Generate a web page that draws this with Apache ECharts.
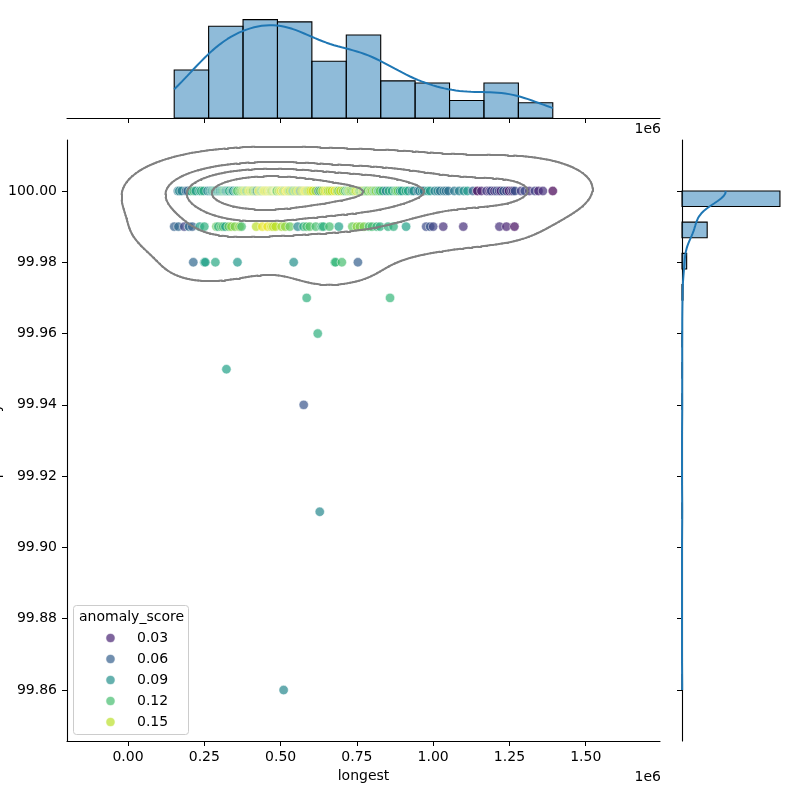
<!DOCTYPE html>
<html>
<head>
<meta charset="utf-8">
<script src="https://cdn.jsdelivr.net/npm/echarts@6/dist/echarts.min.js"></script>
<style>
  html, body { margin: 0; padding: 0; background: #fff; }
  #chart { width: 800px; height: 800px; }
</style>
</head>
<body>
<div id="chart"></div>
<script>
// longest values are listed in thousands, one pair of arrays per identity row
const LONG_UNIT = 1000;

// identity 100.00
const long100 = [
  163.2, 168, 176, 190, 195.7, 205, 215.1, 222, 234.5, 240, 247.7, 260.5,
  268, 273, 276, 280.3, 283, 286.2, 290, 292.8, 296, 299.7, 302, 305.9, 309, 312.5, 316, 319.1, 322, 325.7,
  329, 332.2, 338.8, 342, 345.1, 352, 356, 358.6, 366, 371.1, 375,
  379, 381.6, 385, 388.2, 391, 394.4, 398, 401, 404.6, 407, 410.2, 414.5, 417.8, 420, 423, 427.6, 430, 434.2,
  437.5, 440, 442.8, 445, 447.4, 450.7, 454, 457.2, 460.5, 463.8, 466, 468.8, 471, 473.7, 477, 479, 481.6,
  483.6, 485, 486.8, 488,
  493.4, 496, 500, 503, 507.6, 510, 513.2, 516.5, 520.7, 523, 526.3, 529.6, 532, 536.2, 540.1, 543, 546.1,
  549, 552.6, 556, 559.2, 563, 566.1, 569, 572.4, 576, 579, 582, 585.5, 589, 592, 595.4, 599,
  605.3, 615, 624.7, 630, 637.5, 645, 650.7, 656, 661.2, 668, 676.7, 685, 690, 696.1, 705, 712,
  718, 720.4, 724, 727, 731, 735.2, 740.1, 744, 748, 753.3, 757, 759.9, 764, 767.8, 770, 773, 777, 780.6,
  783, 786.2, 792.8, 796, 800.3, 805.9, 809, 812.5, 819.1, 822, 826.3,
  835, 845.7, 855, 865.1, 875, 880, 884.9, 892, 898, 910.5, 918, 930.3, 936,
  949.7, 955, 963.8, 970, 982.2, 990, 1005, 1015, 1023, 1034.2, 1042, 1050,
  1069.1, 1085, 1100, 1112.2, 1130, 1144.7, 1157.9,
  1175, 1185, 1190.2, 1200.7, 1208, 1216.1, 1222, 1230.3, 1240, 1248.7, 1256.6, 1262, 1268.1,
  1287.9, 1300, 1315, 1333.2, 1345, 1359.6, 1392
];
const score100 = [
  0.075, 0.085, 0.08, 0.07, 0.06, 0.11, 0.12, 0.095, 0.10, 0.11, 0.105, 0.08,
  0.09, 0.095, 0.10, 0.085, 0.115, 0.11, 0.095, 0.08, 0.11, 0.10, 0.085, 0.105, 0.10, 0.12, 0.12, 0.11, 0.095, 0.09,
  0.11, 0.105, 0.115, 0.10, 0.09, 0.10, 0.12, 0.125, 0.13, 0.135, 0.14,
  0.14, 0.15, 0.155, 0.12, 0.13, 0.155, 0.16, 0.15, 0.14, 0.16, 0.13, 0.15, 0.11, 0.14, 0.085, 0.16, 0.155, 0.145,
  0.13, 0.12, 0.155, 0.15, 0.16, 0.15, 0.16, 0.14, 0.165, 0.155, 0.145, 0.16, 0.135, 0.15, 0.13, 0.155, 0.145,
  0.16, 0.15, 0.14, 0.125,
  0.15, 0.14, 0.16, 0.155, 0.16, 0.13, 0.14, 0.165, 0.155, 0.16, 0.15, 0.13, 0.145, 0.16, 0.11, 0.12, 0.145,
  0.15, 0.12, 0.16, 0.155, 0.135, 0.07, 0.15, 0.15, 0.14, 0.165, 0.155, 0.16, 0.13, 0.15, 0.14, 0.16,
  0.155, 0.14, 0.08, 0.13, 0.15, 0.155, 0.16, 0.14, 0.15, 0.15, 0.16, 0.145, 0.13, 0.155, 0.14, 0.12,
  0.12, 0.13, 0.14, 0.145, 0.13, 0.14, 0.12, 0.15, 0.15, 0.155, 0.14, 0.135, 0.125, 0.16, 0.135, 0.15, 0.12, 0.115,
  0.14, 0.125, 0.145, 0.13, 0.14, 0.13, 0.12, 0.14, 0.12, 0.115, 0.13,
  0.10, 0.08, 0.11, 0.105, 0.12, 0.125, 0.13, 0.095, 0.10, 0.11, 0.10, 0.085, 0.09,
  0.07, 0.08, 0.09, 0.075, 0.105, 0.095, 0.08, 0.085, 0.07, 0.075, 0.07, 0.07,
  0.075, 0.08, 0.09, 0.095, 0.06, 0.015, 0.03,
  0.04, 0.03, 0.05, 0.035, 0.05, 0.045, 0.03, 0.06, 0.045, 0.02, 0.04, 0.035, 0.055,
  0.04, 0.05, 0.035, 0.045, 0.03, 0.035, 0.015
];

// identity 99.99
const long9999 = [
  151.3, 165, 184.2, 200, 210.5, 235, 250,
  289.5, 296, 305.9, 312, 319.1, 330, 338.8, 350, 365.1, 372,
  420, 440, 457.2, 470, 476, 483.6,
  503.3, 515, 530, 555.9, 575, 585, 595.4,
  615.1, 634.9, 640, 660, 690.8,
  735, 750, 760, 773, 790, 799.3, 815, 825.7,
  852, 870, 911.2,
  977, 990.1, 1000, 1032.9,
  1098.7,
  1217.1, 1240, 1266.5
];
const score9999 = [
  0.06, 0.065, 0.045, 0.07, 0.06, 0.10, 0.11,
  0.13, 0.11, 0.125, 0.12, 0.10, 0.13, 0.14, 0.135, 0.14, 0.12,
  0.15, 0.16, 0.16, 0.155, 0.15, 0.15,
  0.145, 0.14, 0.13, 0.085, 0.11, 0.12, 0.125,
  0.12, 0.115, 0.11, 0.12, 0.10,
  0.13, 0.14, 0.135, 0.135, 0.12, 0.12, 0.115, 0.11,
  0.11, 0.11, 0.10,
  0.05, 0.055, 0.045, 0.035,
  0.035,
  0.035, 0.03, 0.02
];

// identity 99.98
const long9998 = [213.8, 250, 253.3, 286.2, 358.6, 542.8, 677.6, 680, 700.7, 753.3];
const score9998 = [0.065, 0.10, 0.10, 0.105, 0.095, 0.09, 0.115, 0.115, 0.12, 0.06];

// the few rows below 99.98
const longLow = [585.5, 858.6, 621.7, 322.4, 575.7, 628.3, 509.9];
const identLow = [99.97, 99.97, 99.96, 99.95, 99.94, 99.91, 99.86];
const scoreLow = [0.11, 0.115, 0.11, 0.10, 0.055, 0.085, 0.085];

const xTicks = [0, 250000, 500000, 750000, 1000000, 1250000, 1500000, 1750000];
const yTicks = [99.86, 99.88, 99.90, 99.92, 99.94, 99.96, 99.98, 100.00];
const legendValues = [0.03, 0.06, 0.09, 0.12, 0.15];

const X_BINS = 11;
const Y_BINS = 32;
const KDE_PROPS = [0.05, 0.2875, 0.525, 0.7625];   // levels=5, thresh=0.05
const TOP_COUNT_MAX = 54;
const RIGHT_COUNT_MAX = 253;

const VIRIDIS = ['#440154', '#482878', '#3e4a89', '#31688e', '#26828e',
                 '#1f9e89', '#35b779', '#6dcd59', '#b4de2c', '#fde725'];
const HIST_FILL = 'rgba(31,119,180,0.5)';
const KDE_BLUE = '#1f77b4';
const FONT = 'DejaVu Sans';

// ---- assemble points ----
const points = [];
long100.forEach((v, i) => points.push([v * LONG_UNIT, 100.00, score100[i]]));
long9999.forEach((v, i) => points.push([v * LONG_UNIT, 99.99, score9999[i]]));
long9998.forEach((v, i) => points.push([v * LONG_UNIT, 99.98, score9998[i]]));
longLow.forEach((v, i) => points.push([v * LONG_UNIT, identLow[i], scoreLow[i]]));

const xs = points.map(p => p[0]);
const ys = points.map(p => p[1]);
const ss = points.map(p => p[2]);
const N = points.length;
const sMin = Math.min(...ss), sMax = Math.max(...ss);

function hexRgb(h) {
  return [parseInt(h.slice(1, 3), 16), parseInt(h.slice(3, 5), 16), parseInt(h.slice(5, 7), 16)];
}
function viridis(t) {
  t = Math.max(0, Math.min(1, t));
  const pos = t * (VIRIDIS.length - 1);
  const i = Math.min(Math.floor(pos), VIRIDIS.length - 2);
  const f = pos - i;
  const a = hexRgb(VIRIDIS[i]), b = hexRgb(VIRIDIS[i + 1]);
  const c = a.map((v, k) => Math.round(v + (b[k] - v) * f));
  return 'rgb(' + c[0] + ',' + c[1] + ',' + c[2] + ')';
}
const scoreColor = s => viridis((s - sMin) / (sMax - sMin));

function mean(a) { return a.reduce((s, v) => s + v, 0) / a.length; }
function std(a) {
  const m = mean(a);
  return Math.sqrt(a.reduce((s, v) => s + (v - m) * (v - m), 0) / (a.length - 1));
}
function linspace(a, b, n) {
  const out = [];
  for (let i = 0; i < n; i++) out.push(a + (b - a) * i / (n - 1));
  return out;
}

// ---- bivariate kde (scott) on a 200x200 grid, cut = 3 ----
const mx = mean(xs), my = mean(ys);
let sxx = 0, syy = 0, sxy = 0;
for (let i = 0; i < N; i++) {
  const dx = xs[i] - mx, dy = ys[i] - my;
  sxx += dx * dx; syy += dy * dy; sxy += dx * dy;
}
const fac2 = Math.pow(N, -2 / 6);
const cxx = sxx / (N - 1) * fac2, cyy = syy / (N - 1) * fac2, cxy = sxy / (N - 1) * fac2;
const det = cxx * cyy - cxy * cxy;
const ixx = cyy / det, iyy = cxx / det, ixy = -cxy / det;
const bwx = Math.sqrt(cxx), bwy = Math.sqrt(cyy);
const xLo = Math.min(...xs) - 3 * bwx, xHi = Math.max(...xs) + 3 * bwx;
const yLo = Math.min(...ys) - 3 * bwy, yHi = Math.max(...ys) + 3 * bwy;

const G = 200;
const gx = linspace(xLo, xHi, G), gy = linspace(yLo, yHi, G);
const Z = [];
const flat = [];
for (let j = 0; j < G; j++) {
  const row = new Float64Array(G);
  for (let i = 0; i < G; i++) {
    let s = 0;
    for (let k = 0; k < N; k++) {
      const dx = gx[i] - xs[k], dy = gy[j] - ys[k];
      s += Math.exp(-0.5 * (ixx * dx * dx + 2 * ixy * dx * dy + iyy * dy * dy));
    }
    row[i] = s;
    flat.push(s);
  }
  Z.push(row);
}
const sorted = flat.slice().sort((a, b) => b - a);
const total = sorted.reduce((s, v) => s + v, 0);
const cum = [];
let acc = 0;
for (const v of sorted) { acc += v; cum.push(acc / total); }
const levels = KDE_PROPS.map(q => {
  let idx = cum.findIndex(c => c >= 1 - q);
  if (idx < 0) idx = cum.length - 1;
  return sorted[idx];
});

function contourSegments(level) {
  const segs = [];
  for (let j = 0; j < G - 1; j++) {
    for (let i = 0; i < G - 1; i++) {
      const v = [Z[j][i], Z[j][i + 1], Z[j + 1][i + 1], Z[j + 1][i]];
      const px = [gx[i], gx[i + 1], gx[i + 1], gx[i]];
      const py = [gy[j], gy[j], gy[j + 1], gy[j + 1]];
      const pts = [];
      for (let e = 0; e < 4; e++) {
        const a = e, b = (e + 1) % 4;
        if ((v[a] >= level) !== (v[b] >= level)) {
          const t = (level - v[a]) / (v[b] - v[a]);
          pts.push([px[a] + t * (px[b] - px[a]), py[a] + t * (py[b] - py[a])]);
        }
      }
      if (pts.length === 2) {
        segs.push({ coords: pts });
      } else if (pts.length === 4) {
        const c = (v[0] + v[1] + v[2] + v[3]) / 4;
        if ((c >= level) === (v[0] >= level)) {
          segs.push({ coords: [pts[0], pts[1]] }, { coords: [pts[2], pts[3]] });
        } else {
          segs.push({ coords: [pts[3], pts[0]] }, { coords: [pts[1], pts[2]] });
        }
      }
    }
  }
  return segs;
}
let contourData = [];
levels.forEach(l => { contourData = contourData.concat(contourSegments(l)); });

// ---- marginal histograms + kde lines ----
function histogram(vals, nb) {
  const lo = Math.min(...vals), hi = Math.max(...vals);
  const w = (hi - lo) / nb;
  const counts = new Array(nb).fill(0);
  vals.forEach(v => { counts[Math.min(nb - 1, Math.floor((v - lo) / w))]++; });
  return { bars: counts.map((c, i) => [lo + i * w, lo + (i + 1) * w, c]).filter(b => b[2] > 0), w, lo, hi };
}
function kde1d(vals, lo, hi, scale) {
  const n = vals.length;
  const bw = std(vals) * Math.pow(n, -0.2);
  const norm = scale / (n * bw * Math.sqrt(2 * Math.PI));
  return linspace(lo, hi, 200).map(g => {
    let s = 0;
    for (const v of vals) { const z = (g - v) / bw; s += Math.exp(-0.5 * z * z); }
    return [g, s * norm];
  });
}
const hx = histogram(xs, X_BINS);
const hy = histogram(ys, Y_BINS);
const kdeX = kde1d(xs, hx.lo, hx.hi, N * hx.w);
const kdeY = kde1d(ys, hy.lo, hy.hi, N * hy.w).map(p => [p[1], p[0]]);

// ---- chart ----
const chart = echarts.init(document.getElementById('chart'), null, { renderer: 'canvas' });

const axisBlack = { onZero: false, lineStyle: { color: '#000', width: 1.1 } };
const labelStyle = { color: '#000', fontSize: 14, fontFamily: FONT };
const txt = (text, align, extra) => Object.assign({
  text: text, fill: '#000', font: '14px "DejaVu Sans"',
  textAlign: align, textVerticalAlign: 'middle', align: align, verticalAlign: 'middle'
}, extra || {});

const legendItems = [
  { type: 'rect', z: 10, shape: { x: 73.5, y: 605.5, width: 115, height: 129, r: 3 },
    style: { fill: 'rgba(255,255,255,0.8)', stroke: '#cccccc', lineWidth: 1 } },
  { type: 'text', z: 11, x: 131.5, y: 617, style: txt('anomaly_score', 'center') }
];
legendValues.forEach((v, i) => {
  const y = 638 + i * 21;
  legendItems.push({
    type: 'circle', z: 11, shape: { cx: 110.5, cy: y, r: 4.6 },
    style: { fill: scoreColor(v), stroke: '#fff', lineWidth: 0.75, opacity: 0.7 }
  });
  legendItems.push({ type: 'text', z: 11, x: 137, y: y, style: txt(v.toFixed(2), 'left') });
});

chart.setOption({
  animation: false,
  backgroundColor: '#fff',
  grid: [
    { left: 67, top: 140, width: 593, height: 601 },
    { left: 67, top: 0, width: 593, height: 118 },
    { left: 682, top: 140, width: 118, height: 601 }
  ],
  xAxis: [
    {
      gridIndex: 0, type: 'value', min: xLo, max: xHi,
      axisLine: axisBlack,
      axisTick: { length: 5, lineStyle: { color: '#000' }, customValues: xTicks },
      axisLabel: Object.assign({ margin: 9, customValues: xTicks,
        formatter: v => (v / 1e6).toFixed(2) }, labelStyle),
      splitLine: { show: false },
      name: 'longest', nameLocation: 'middle', nameGap: 28,
      nameTextStyle: labelStyle
    },
    {
      gridIndex: 1, type: 'value', min: xLo, max: xHi,
      axisLine: axisBlack,
      axisTick: { length: 5, lineStyle: { color: '#000' }, customValues: xTicks },
      axisLabel: { show: false },
      splitLine: { show: false }
    },
    {
      gridIndex: 2, type: 'value', min: 0, max: RIGHT_COUNT_MAX, show: false
    }
  ],
  yAxis: [
    {
      gridIndex: 0, type: 'value', min: yLo, max: yHi,
      axisLine: axisBlack,
      axisTick: { length: 5, lineStyle: { color: '#000' }, customValues: yTicks },
      axisLabel: Object.assign({ margin: 10, customValues: yTicks,
        formatter: v => v.toFixed(2) }, labelStyle),
      splitLine: { show: false }
    },
    {
      gridIndex: 1, type: 'value', min: 0, max: TOP_COUNT_MAX, show: false
    },
    {
      gridIndex: 2, type: 'value', min: yLo, max: yHi,
      axisLine: axisBlack,
      axisTick: { length: 5, lineStyle: { color: '#000' }, customValues: yTicks },
      axisLabel: { show: false },
      splitLine: { show: false }
    }
  ],
  series: [
    {
      type: 'scatter', xAxisIndex: 0, yAxisIndex: 0,
      data: points, symbolSize: 9.4, z: 2,
      itemStyle: {
        color: p => scoreColor(p.value[2]),
        opacity: 0.7, borderColor: '#fff', borderWidth: 0.75
      },
      silent: true
    },
    {
      type: 'lines', coordinateSystem: 'cartesian2d', xAxisIndex: 0, yAxisIndex: 0,
      data: contourData, z: 3, silent: true,
      lineStyle: { color: '#808080', width: 2, opacity: 1, cap: 'round' }
    },
    {
      type: 'custom', xAxisIndex: 1, yAxisIndex: 1, data: hx.bars, silent: true,
      renderItem: (params, api) => {
        const p0 = api.coord([api.value(0), api.value(2)]);
        const p1 = api.coord([api.value(1), 0]);
        return { type: 'rect',
          shape: { x: p0[0], y: p0[1], width: p1[0] - p0[0], height: p1[1] - p0[1] },
          style: { fill: HIST_FILL, stroke: '#000', lineWidth: 1.1 } };
      }
    },
    {
      type: 'line', xAxisIndex: 1, yAxisIndex: 1, data: kdeX, showSymbol: false,
      symbol: 'none', silent: true, z: 3,
      lineStyle: { color: KDE_BLUE, width: 2 }
    },
    {
      type: 'custom', xAxisIndex: 2, yAxisIndex: 2, data: hy.bars, silent: true,
      renderItem: (params, api) => {
        const p0 = api.coord([0, api.value(1)]);
        const p1 = api.coord([api.value(2), api.value(0)]);
        return { type: 'rect',
          shape: { x: p0[0], y: p0[1], width: p1[0] - p0[0], height: p1[1] - p0[1] },
          style: { fill: HIST_FILL, stroke: '#000', lineWidth: 1.1 } };
      }
    },
    {
      type: 'line', xAxisIndex: 2, yAxisIndex: 2, data: kdeY, showSymbol: false,
      symbol: 'none', silent: true, z: 3,
      lineStyle: { color: KDE_BLUE, width: 2 }
    }
  ],
  graphic: [
    { type: 'text', x: 661, y: 777, style: txt('1e6', 'right') },
    { type: 'text', x: 661, y: 129, style: txt('1e6', 'right') },
    { type: 'text', x: 3, y: 441, rotation: Math.PI / 2,
      style: txt('probability', 'center', { textVerticalAlign: 'bottom', verticalAlign: 'bottom' }) },
    { type: 'group', z: 10, children: legendItems }
  ]
});
</script>
</body>
</html>
